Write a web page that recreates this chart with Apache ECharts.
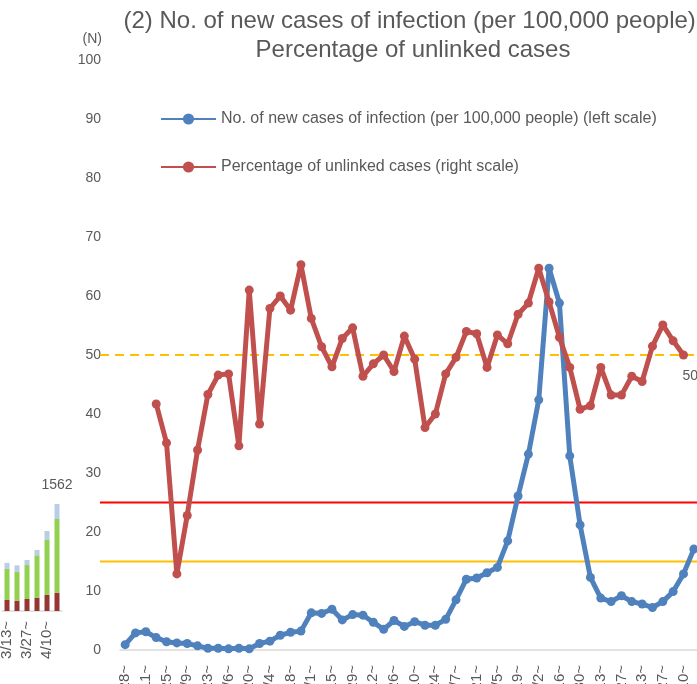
<!DOCTYPE html>
<html>
<head>
<meta charset="utf-8">
<script src="https://cdn.jsdelivr.net/npm/echarts@6/dist/echarts.min.js"></script>
<style>
html,body{margin:0;padding:0;background:#ffffff;overflow:hidden;}
#chart{width:697px;height:684px;}
</style>
</head>
<body>
<div id="chart"></div>
<script>
// ---- main chart data (weekly) ----
const weeks = ['3/28~','4/4~','4/11~','4/18~','4/25~','5/2~','5/9~','5/16~','5/23~','5/30~',
  '6/6~','6/13~','6/20~','6/27~','7/4~','7/11~','7/18~','7/25~','8/1~','8/8~',
  '8/15~','8/22~','8/29~','9/5~','9/12~','9/19~','9/26~','10/3~','10/10~','10/17~',
  '10/24~','10/31~','11/7~','11/14~','11/21~','11/28~','12/5~','12/12~','12/19~','12/26~',
  '1/2~','1/9~','1/16~','1/23~','1/30~','2/6~','2/13~','2/20~','2/27~','3/6~',
  '3/13~','3/20~','3/27~','4/3~','4/10~','4/17~'];

const newCasesPer100k = [0.9,2.9,3.1,2.1,1.4,1.2,1.1,0.7,0.3,0.3,
  0.2,0.3,0.2,1.1,1.5,2.5,3.0,3.2,6.3,6.2,
  6.9,5.1,6.0,5.9,4.7,3.5,5.0,4.0,4.8,4.2,
  4.2,5.2,8.5,12.0,12.2,13.1,14.0,18.5,26.1,33.2,
  42.4,64.7,58.8,32.9,21.2,12.3,8.8,8.2,9.2,8.2,
  7.8,7.2,8.2,9.9,12.9,17.1];

const unlinkedPct = [null,null,null,41.7,35.1,12.9,22.8,33.9,43.3,46.6,
  46.8,34.6,61.0,38.3,57.9,60.0,57.6,65.3,56.2,51.4,
  48.0,52.8,54.6,46.4,48.5,50.0,47.2,53.2,49.3,37.7,
  40.0,46.8,49.6,54.0,53.6,47.9,53.4,51.9,56.9,58.8,
  64.7,59.0,53.0,47.9,40.8,41.4,47.9,43.2,43.2,46.4,
  45.5,51.5,55.1,52.4,50.0,null];

const leftTicks = [0,10,20,30,40,50,60,70,80,90,100];
const redLevel = 25;      // left scale
const yellowLevel = 15;   // left scale
const dashedLevel = 50;   // right scale (%)

// ---- inset chart (partly visible at left) ----
const insetWeeks = ['3/13~','3/20~','3/27~','4/3~','4/10~','4/17~'];
const insetBottom = [161,150,175,194,234,267];
const insetMiddle = [453,423,496,619,803,1076];
const insetTop = [88,93,73,77,131,219];

const GREY = '#595959';
const FONT = 'Liberation Sans, Arial, sans-serif';

const chart = echarts.init(document.getElementById('chart'), null, {renderer:'canvas'});

// last non-null red point gets its value label
let lastRed = -1;
unlinkedPct.forEach((v,i)=>{ if (v !== null) lastRed = i; });
const redData = unlinkedPct.map((v,i)=> i === lastRed ? {
  value: v,
  label: {show:true, position:'bottom', align:'left', offset:[-1,5], color:GREY, fontSize:14, fontFamily:FONT}
} : v);

const insetTotals = insetBottom.map((v,i)=> v + insetMiddle[i] + insetTop[i]);
const insetTopData = insetTop.map((v,i)=> i === insetTop.length-1 ? {
  value: v,
  label: {show:true, position:'top', distance:12, color:GREY, fontSize:14, fontFamily:FONT,
          formatter: ()=> String(insetTotals[i])}
} : v);

const lineSpan = [0,1];
const levelLine = (lvl)=> lineSpan.map(x=>[x,lvl]);

const option = {
  animation:false,
  backgroundColor:'#ffffff',
  textStyle:{fontFamily:FONT},
  title:{
    text:'(2) No. of new cases of infection (per 100,000 people),\nPercentage of unlinked cases',
    left:413, top:7, textAlign:'center', padding:0,
    textStyle:{fontSize:24, fontWeight:'normal', color:GREY, lineHeight:29, fontFamily:FONT}
  },
  legend:{
    orient:'vertical', left:160, top:111, padding:0,
    itemWidth:55, itemHeight:14, itemGap:32,
    data:['No. of new cases of infection (per 100,000 people) (left scale)','Percentage of unlinked cases (right scale)'],
    textStyle:{color:GREY, fontSize:16, fontFamily:FONT}
  },
  grid:[
    {left:120, top:60, width:579, height:590, outerBoundsMode:'none', containLabel:false},
    {left:100, top:60, width:600, height:590, outerBoundsMode:'none', containLabel:false},
    {left:2, top:474, width:60, height:137, outerBoundsMode:'none', containLabel:false}
  ],
  xAxis:[
    {type:'category', gridIndex:0, data:weeks, boundaryGap:true,
     axisLine:{lineStyle:{color:'#d9d9d9', width:1.5}}, axisTick:{show:false},
     axisLabel:{interval:1, rotate:90, color:GREY, fontSize:15, margin:15, fontFamily:FONT}},
    {type:'value', gridIndex:1, min:0, max:1, show:false},
    {type:'category', gridIndex:2, data:insetWeeks, boundaryGap:true,
     axisLine:{lineStyle:{color:'#d9d9d9', width:1.5}}, axisTick:{show:false},
     axisLabel:{interval:1, rotate:90, color:GREY, fontSize:15, margin:10, fontFamily:FONT}}
  ],
  yAxis:[
    {type:'value', gridIndex:0, min:leftTicks[0], max:leftTicks[leftTicks.length-1], interval:10,
     name:'(N)', nameLocation:'end', nameGap:14,
     nameTextStyle:{color:GREY, fontSize:14, align:'right', padding:[0,18,0,0], fontFamily:FONT},
     axisLine:{show:false}, axisTick:{show:false}, splitLine:{show:false},
     axisLabel:{color:GREY, fontSize:14, margin:19, fontFamily:FONT}},
    {type:'value', gridIndex:0, min:0, max:100, show:false},
    {type:'value', gridIndex:1, min:0, max:100, show:false},
    {type:'value', gridIndex:2, min:0, max:2000, show:false}
  ],
  series:[
    {name:'level-yellow', type:'line', xAxisIndex:1, yAxisIndex:2, data:levelLine(yellowLevel),
     symbol:'none', silent:true, z:1, lineStyle:{color:'#ffc000', width:2}},
    {name:'level-red', type:'line', xAxisIndex:1, yAxisIndex:2, data:levelLine(redLevel),
     symbol:'none', silent:true, z:1, lineStyle:{color:'#ff0000', width:2}},
    {name:'level-dashed', type:'line', xAxisIndex:1, yAxisIndex:2, data:levelLine(dashedLevel),
     symbol:'none', silent:true, z:1, lineStyle:{color:'#ffc000', width:2, type:[9,6]}},
    {name:'No. of new cases of infection (per 100,000 people) (left scale)', type:'line',
     xAxisIndex:0, yAxisIndex:0, data:newCasesPer100k, z:3,
     symbol:'circle', symbolSize:9, showSymbol:true, showAllSymbol:true, color:'#4f81bd',
     lineStyle:{color:'#4f81bd', width:5}, itemStyle:{color:'#4f81bd'}},
    {name:'Percentage of unlinked cases (right scale)', type:'line',
     xAxisIndex:0, yAxisIndex:1, data:redData, z:4, connectNulls:false,
     symbol:'circle', symbolSize:9, showSymbol:true, showAllSymbol:true, color:'#c0504d',
     lineStyle:{color:'#c0504d', width:5}, itemStyle:{color:'#c0504d'}},
    {name:'inset-bottom', type:'bar', xAxisIndex:2, yAxisIndex:3, stack:'inset', barWidth:5,
     data:insetBottom, itemStyle:{color:'#963634'}},
    {name:'inset-middle', type:'bar', xAxisIndex:2, yAxisIndex:3, stack:'inset', barWidth:5,
     data:insetMiddle, itemStyle:{color:'#92d050'}},
    {name:'inset-top', type:'bar', xAxisIndex:2, yAxisIndex:3, stack:'inset', barWidth:5,
     data:insetTopData, itemStyle:{color:'#b9cde5'}}
  ]
};
chart.setOption(option);
</script>
</body>
</html>
